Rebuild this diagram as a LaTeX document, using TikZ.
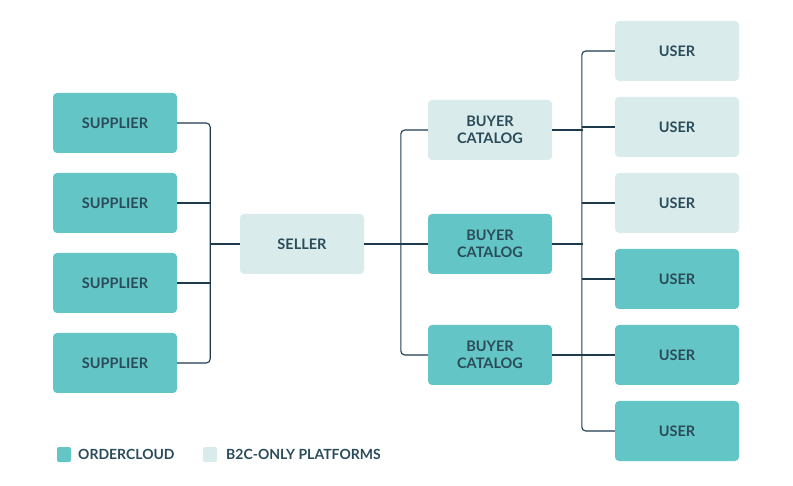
\documentclass[tikz,border=0pt]{standalone}
\usepackage{fontspec}
\setmainfont{Lato}
\usepackage{xcolor}
\usepackage{tikz}
\usetikzlibrary{calc}

\definecolor{octeal}{HTML}{63C5C5}
\definecolor{b2cpale}{HTML}{DAEBEB}
\definecolor{inkblue}{HTML}{2A4C5A}
\definecolor{wireblue}{HTML}{1D3A4F}

\tikzset{
	block/.style={rounded corners=4pt, minimum width=124pt, minimum height=60pt,
		inner sep=0pt, align=center, text=inkblue,
		font=\fontsize{14.5}{16.5}\selectfont\bfseries},
	ocblock/.style={block, fill=octeal},
	paleblock/.style={block, fill=b2cpale},
	wire/.style={draw=wireblue, line width=1.1pt},
	keybox/.style={rounded corners=2pt, minimum width=14pt, minimum height=15pt, inner sep=0pt},
	keytext/.style={anchor=west, inner sep=0pt, text=inkblue,
		font=\fontsize{14}{16}\selectfont\bfseries}
}

\begin{document}
\begin{tikzpicture}[x=1pt,y=-1pt]
			\useasboundingbox (0,0) rectangle (793,486);

			% suppliers
			\foreach \i/\y in {1/123,2/203,3/283,4/363}
				\node[ocblock] (sup\i) at (115,\y) {SUPPLIER};

			\node[paleblock] (seller) at (302,244) {SELLER};

			% buyer catalogs
			\node[paleblock] (cat1) at (490,130) {BUYER\\CATALOG};
			\node[ocblock] (cat2) at (490,244) {BUYER\\CATALOG};
			\node[ocblock] (cat3) at (490,355) {BUYER\\CATALOG};

			% users
			\foreach \i/\y in {1/51,2/127,3/203}
				\node[paleblock] (user\i) at (677,\y) {USER};
			\foreach \i/\y in {4/279,5/355,6/431}
				\node[ocblock] (user\i) at (677,\y) {USER};

			% supplier tree
			\draw[wire, rounded corners=4pt] (sup1.east) -- ++(33,0) |- (sup4.east);
			\draw[wire] (sup2.east) -- ++(33,0);
			\draw[wire] (sup3.east) -- ++(33,0);
			\draw[wire] (seller.west) -- ++(-30,0);

			% catalog tree
			\draw[wire, rounded corners=4pt] (cat1.west) -- ++(-27,0) |- (cat3.west);
			\draw[wire] (seller.east) -- (cat2.west);

			% user tree
			\draw[wire, rounded corners=4pt] (user1.west) -- ++(-33,0) |- (user6.west);
			\foreach \i in {2,3,4,5}
				\draw[wire] (user\i.west) -- ++(-33,0);
			\foreach \i in {1,2,3}
				\draw[wire] (cat\i.east) -- ++(31,0);

			% legend
			\node[keybox, fill=octeal] (keyoc) at (64,454.5) {};
			\node[keytext] (keyoctext) at (78,454.5) {ORDERCLOUD};
			\node[keybox, fill=b2cpale] (keyb2c) at (210,454.5) {};
			\node[keytext] (keyb2ctext) at (226,454.5) {B2C-ONLY PLATFORMS};
		\end{tikzpicture}
\end{document}
